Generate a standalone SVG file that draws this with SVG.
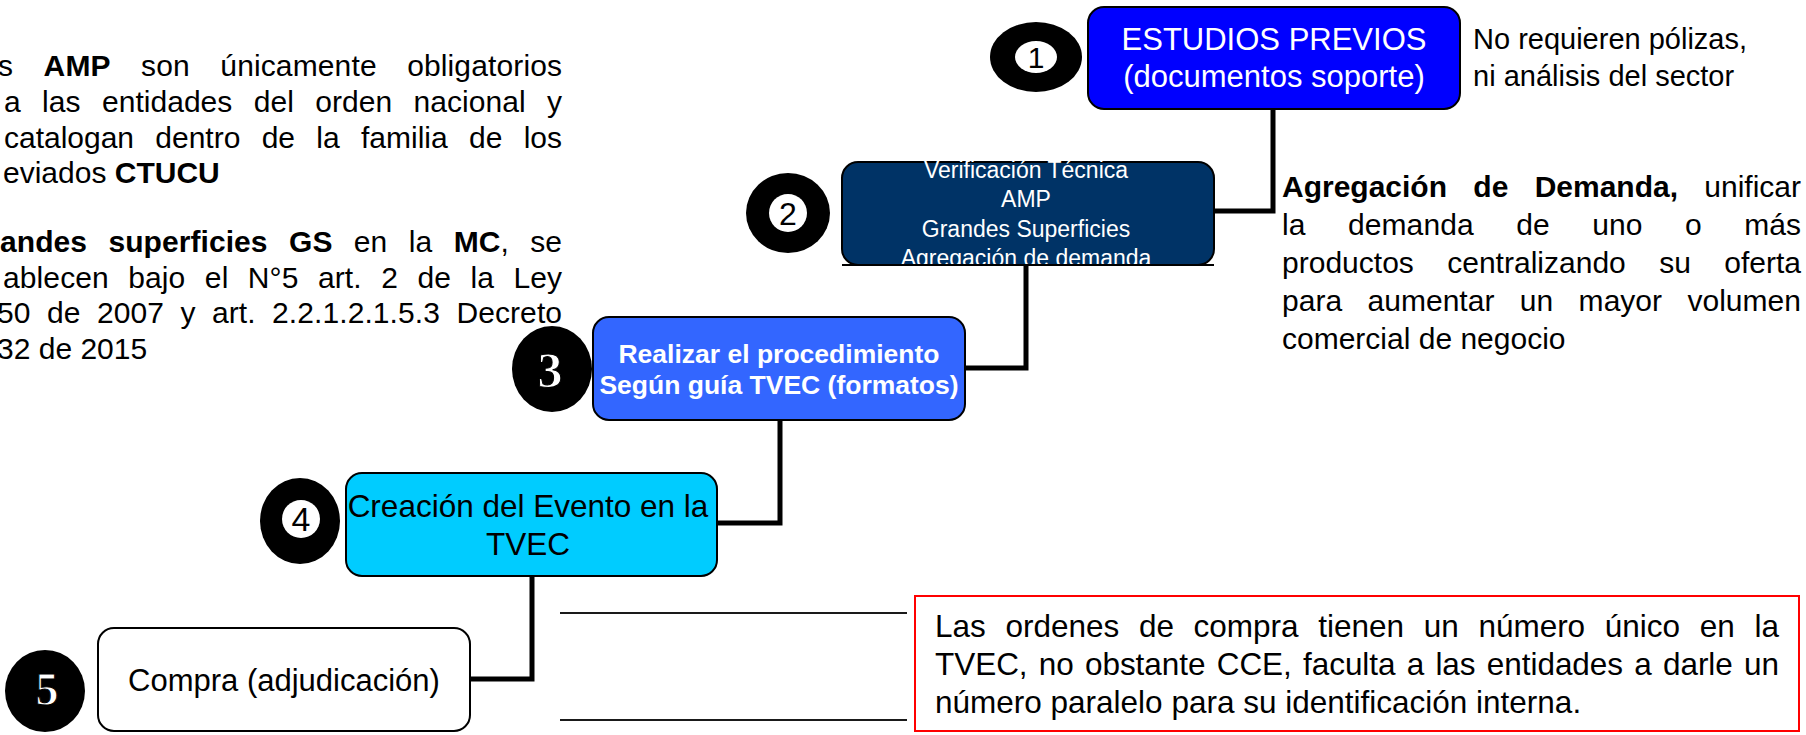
<svg xmlns="http://www.w3.org/2000/svg" width="1806" height="735" viewBox="0 0 1806 735">
<style>
.t{font-family:"Liberation Sans",Arial,sans-serif;fill:#000}
.b{font-weight:bold}
.w{fill:#fff}
.box{stroke:#000;stroke-width:2}
.conn{fill:none;stroke:#000;stroke-width:5}
.thin{fill:none;stroke:#1a1a1a;stroke-width:2}
.dig{font-family:"Liberation Serif","Times New Roman",serif;font-weight:bold;fill:#fff;stroke:#000;stroke-width:1;text-anchor:middle}
.digs{font-family:"Liberation Sans",Arial,sans-serif;fill:#000;text-anchor:middle}
</style>
<rect width="1806" height="735" fill="#fff"/>

<g id="notes-left" class="t" font-size="30">
<text x="-2" y="76" textLength="564" lengthAdjust="spacing" word-spacing="22">s <tspan class="b">AMP</tspan> son únicamente obligatorios</text>
<text x="4" y="112" textLength="558" lengthAdjust="spacing" word-spacing="13">a las entidades del orden nacional y</text>
<text x="4" y="148" textLength="558" lengthAdjust="spacing" word-spacing="13">catalogan dentro de la familia de los</text>
<text x="3" y="183">eviados <tspan class="b">CTUCU</tspan></text>
<text x="0" y="252" textLength="562" lengthAdjust="spacing" word-spacing="13">
<tspan class="b">andes superficies GS</tspan> en la <tspan class="b">MC</tspan>, se</text>
<text x="3" y="288" textLength="559" lengthAdjust="spacing" word-spacing="11">ablecen bajo el N°5 art. 2 de la Ley</text>
<text x="-3" y="323" textLength="565" lengthAdjust="spacing" word-spacing="8">50 de 2007 y art. 2.2.1.2.1.5.3 Decreto</text>
<text x="-3" y="359">32 de 2015</text>
</g>

<g id="connectors">
<path class="conn" d="M1273,109 V211 H1214"/>
<path class="conn" d="M1026,265 V368 H965"/>
<path class="conn" d="M780,420 V523 H717"/>
<path class="conn" d="M532,576 V679 H470"/>
<path class="thin" d="M560,613 H907"/>
<path class="thin" d="M560,720 H907"/>
</g>

<g id="node1">
<ellipse cx="1036" cy="57" rx="46" ry="35" fill="#000"/>
<ellipse cx="1036" cy="57" rx="21" ry="16" fill="#fff"/>
<text class="digs" x="1036" y="68" font-size="30">1</text>
<rect class="box" x="1088" y="7" width="372" height="102" rx="16" fill="#0000FF"/>
<text class="t w" font-size="31" text-anchor="middle" x="1274" y="50">ESTUDIOS PREVIOS</text>
<text class="t w" font-size="31" text-anchor="middle" x="1274" y="87">(documentos soporte)</text>
</g>

<g id="note1" class="t" font-size="29">
<text x="1473" y="49">No requieren pólizas,</text>
<text x="1473" y="86">ni análisis del sector</text>
</g>

<g id="node2">
<ellipse cx="788" cy="213" rx="42" ry="40" fill="#000"/>
<circle cx="788" cy="213" r="19" fill="#fff"/>
<text class="digs" x="788" y="225" font-size="32">2</text>
<rect class="box" x="842" y="162" width="372" height="103" rx="16" fill="#003366"/>
<g class="t w" font-size="23" text-anchor="middle">
<text x="1026" y="178">Verificación Técnica</text>
<text x="1026" y="207">AMP</text>
<text x="1026" y="237">Grandes Superficies</text>
<text x="1026" y="266">Agregación de demanda</text>
</g>
<path d="M842,265 H1214" stroke="#000" stroke-width="2"/>
</g>

<g id="note2" class="t" font-size="30">
<text x="1282" y="197" textLength="519" lengthAdjust="spacing" word-spacing="18"><tspan class="b">Agregación de Demanda,</tspan> unificar</text>
<text x="1282" y="235" textLength="519" lengthAdjust="spacing" word-spacing="34">la demanda de uno o más</text>
<text x="1282" y="273" textLength="519" lengthAdjust="spacing" word-spacing="25">productos centralizando su oferta</text>
<text x="1282" y="311" textLength="519" lengthAdjust="spacing" word-spacing="17">para aumentar un mayor volumen</text>
<text x="1282" y="349">comercial de negocio</text>
</g>

<g id="node3">
<ellipse cx="552" cy="369" rx="40" ry="43" fill="#000"/>
<text class="dig" x="550" y="387" font-size="50">3</text>
<rect class="box" x="593" y="317" width="372" height="103" rx="16" fill="#3366FF"/>
<g class="t w b" font-size="26.5" text-anchor="middle">
<text x="779" y="363">Realizar el procedimiento</text>
<text x="779" y="394">Según guía TVEC (formatos)</text>
</g>
</g>

<g id="node4">
<ellipse cx="300" cy="521" rx="40" ry="43" fill="#000"/>
<circle cx="301" cy="519" r="19" fill="#fff"/>
<text class="digs" x="301" y="531" font-size="34">4</text>
<rect class="box" x="346" y="473" width="371" height="103" rx="16" fill="#00CCFF"/>
<g class="t" font-size="31.5" text-anchor="middle">
<text x="528" y="517">Creación del Evento en la</text>
<text x="528" y="555">TVEC</text>
</g>
</g>

<g id="node5">
<ellipse cx="45" cy="691" rx="40" ry="41" fill="#000"/>
<text class="dig" x="47" y="705" font-size="46">5</text>
<rect class="box" x="98" y="628" width="372" height="103" rx="16" fill="#fff"/>
<text class="t" font-size="31" x="284" y="691" text-anchor="middle">Compra (adjudicación)</text>
</g>

<g id="note3">
<rect x="915" y="596" width="884" height="135" fill="#fff" stroke="#FF0000" stroke-width="2"/>
<g class="t" font-size="31.5">
<text x="935" y="637" textLength="844" lengthAdjust="spacing" word-spacing="11">Las ordenes de compra tienen un número único en la</text>
<text x="935" y="675" textLength="844" lengthAdjust="spacing" word-spacing="2.5">TVEC, no obstante CCE, faculta a las entidades a darle un</text>
<text x="935" y="713">número paralelo para su identificación interna.</text>
</g>
</g>
</svg>
